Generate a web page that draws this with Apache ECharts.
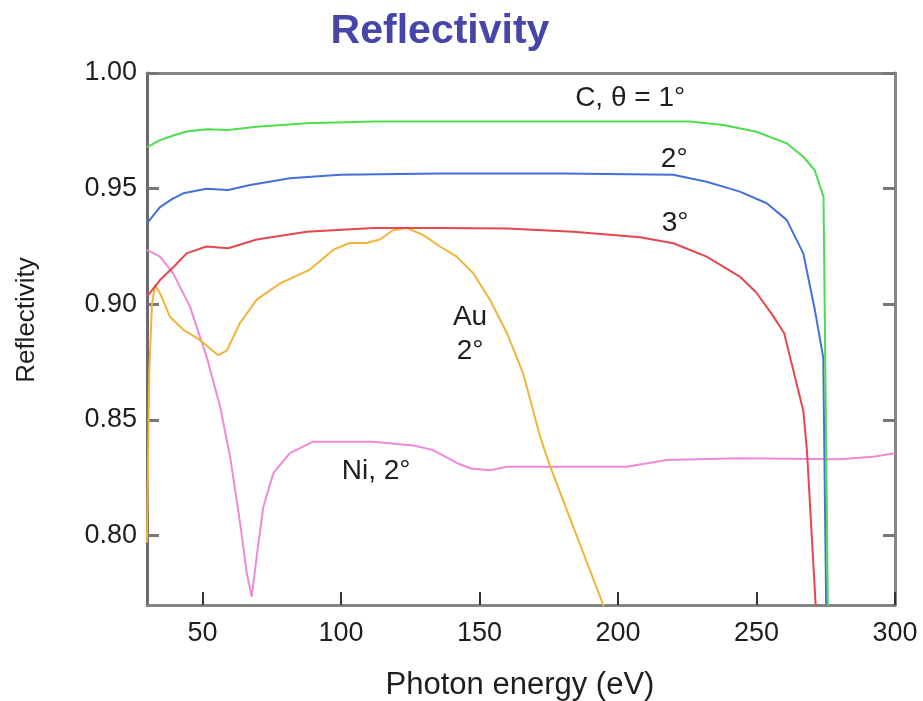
<!DOCTYPE html>
<html>
<head>
<meta charset="utf-8">
<style>
  html, body { margin: 0; padding: 0; background: #fff; }
  #chart { width: 923px; height: 701px; }
</style>
<script src="https://cdn.jsdelivr.net/npm/echarts@6/dist/echarts.min.js"></script>
</head>
<body>
<div id="chart"></div>
<script>
// Carbon mirror, grazing angle 1°
const carbon1Energy = [30, 34.7, 39.5, 44.3, 51.5, 59.3, 69.6, 87.7, 111.7, 135.8, 180, 226, 238, 250, 260.9, 266.9, 271, 274.2, 275.8];
const carbon1Refl   = [0.968, 0.971, 0.973, 0.9747, 0.9757, 0.9754, 0.9768, 0.9783, 0.979, 0.979, 0.979, 0.979, 0.9775, 0.9746, 0.9696, 0.9638, 0.958, 0.9465, 0.765];

// Carbon mirror, 2°
const carbon2Energy = [30, 34.7, 39, 43.1, 51.5, 59.3, 67.2, 81.6, 99.7, 135.8, 180, 219.9, 232, 244, 253.7, 260.9, 266.9, 271, 274.1, 275.2];
const carbon2Refl   = [0.935, 0.942, 0.9455, 0.948, 0.950, 0.9494, 0.9516, 0.9545, 0.956, 0.9566, 0.9566, 0.956, 0.953, 0.9487, 0.9437, 0.9365, 0.922, 0.898, 0.877, 0.765];

// Carbon mirror, 3°
const carbon3Energy = [30, 34.7, 39.5, 44.3, 51.5, 59.3, 69.6, 87.7, 111.7, 135.8, 160, 183.9, 208, 220, 232, 244, 250, 256, 260, 266.9, 268.2, 271.6];
const carbon3Refl   = [0.9033, 0.9105, 0.916, 0.922, 0.925, 0.9242, 0.928, 0.9314, 0.933, 0.933, 0.9328, 0.9314, 0.929, 0.9264, 0.9206, 0.912, 0.905, 0.895, 0.8875, 0.854, 0.837, 0.765];

// Gold mirror, 2°
const goldEnergy = [30, 30.8, 31.8, 32.9, 35, 38.3, 43.1, 49.1, 55.7, 58.8, 63.6, 69.6, 78, 88.8, 97.2, 103, 109.3, 114, 118.8, 123.7, 129.6, 135.8, 141.8, 147.7, 153.8, 159.9, 165.8, 171.9, 175.5, 183.8, 194.7, 196.5];
const goldRefl   = [0.797, 0.87, 0.90, 0.9083, 0.904, 0.8946, 0.889, 0.8846, 0.878, 0.880, 0.892, 0.902, 0.909, 0.915, 0.9235, 0.9265, 0.9265, 0.928, 0.932, 0.933, 0.930, 0.925, 0.9206, 0.9135, 0.902, 0.8876, 0.870, 0.8428, 0.830, 0.804, 0.770, 0.764];

// Nickel mirror, 2°
const nickelEnergy = [30, 34.7, 39.4, 45.5, 51.5, 56.4, 60, 63.6, 66, 67.8, 69.6, 72, 75.6, 81.6, 90, 111.6, 126, 133.3, 141.8, 147, 153.8, 159.9, 171.9, 203.2, 217.6, 244, 280, 292, 300];
const nickelRefl   = [0.9235, 0.9206, 0.9135, 0.899, 0.8774, 0.8557, 0.834, 0.8055, 0.7838, 0.7736, 0.791, 0.8125, 0.827, 0.8357, 0.8406, 0.8406, 0.839, 0.837, 0.8314, 0.829, 0.8283, 0.8298, 0.8298, 0.8298, 0.8327, 0.8334, 0.833, 0.8341, 0.8356];

// Axis ticks
const energyTicks = [50, 100, 150, 200, 250, 300];
const reflTicks   = [0.80, 0.85, 0.90, 0.95, 1.00];

// Curve labels, anchored in data coordinates [energy, reflectivity]
const curveLabels = [
  { text: 'C, θ = 1°', at: [204.4, 0.9892] },
  { text: '2°',        at: [220.3, 0.9628] },
  { text: '3°',        at: [220.6, 0.9351] },
  { text: 'Au',        at: [146.6, 0.8945] },
  { text: '2°',        at: [146.6, 0.8798] },
  { text: 'Ni, 2°',    at: [112.7, 0.8279] }
];

const zip = (xs, ys) => xs.map((x, i) => [x, ys[i]]);

const FONT = '"Liberation Sans", Arial, Helvetica, sans-serif';
const FRAME = '#858585';
const INK = '#1e1e1e';

function line(name, xs, ys, color) {
  return {
    name, type: 'line', data: zip(xs, ys),
    showSymbol: false, symbol: 'none', clip: true,
    lineStyle: { color, width: 2 },
    z: 3
  };
}

const chart = echarts.init(document.getElementById('chart'), null, { renderer: 'canvas' });

const X_MIN = 30, X_MAX = 300, Y_MIN = 0.77, Y_MAX = 1.0;

const titleGraphics = [
  {
    type: 'text', x: 440, y: 32, z: 10,
    style: { text: 'Reflectivity', fill: '#4646aa', font: 'bold 41px ' + FONT, textAlign: 'center', textVerticalAlign: 'middle' }
  },
  {
    type: 'text', x: 27, y: 320, rotation: Math.PI / 2, z: 10,
    style: { text: 'Reflectivity', fill: INK, font: '26px ' + FONT, textAlign: 'center', textVerticalAlign: 'middle' }
  },
  {
    type: 'text', x: 520, y: 685, z: 10,
    style: { text: 'Photon energy (eV)', fill: INK, font: '31px ' + FONT, textAlign: 'center', textVerticalAlign: 'middle' }
  }
];

chart.setOption({
  animation: false,
  backgroundColor: '#ffffff',
  grid: { left: 147, right: 28, top: 73, bottom: 96, outerBoundsMode: 'none' },
  xAxis: [
    {
      type: 'value', min: X_MIN, max: X_MAX, position: 'bottom',
      axisLine: { show: true, onZero: false, lineStyle: { color: FRAME, width: 3 } },
      axisTick: { show: true, inside: true, length: 13, customValues: energyTicks, lineStyle: { color: '#333', width: 2 } },
      axisLabel: { show: true, customValues: energyTicks, margin: 15, color: INK, fontSize: 27, fontFamily: FONT },
      splitLine: { show: false }
    },
    {
      type: 'value', min: X_MIN, max: X_MAX, position: 'top',
      axisLine: { show: true, onZero: false, lineStyle: { color: FRAME, width: 3 } },
      axisTick: { show: false }, axisLabel: { show: false }, splitLine: { show: false }
    }
  ],
  yAxis: [
    {
      type: 'value', min: Y_MIN, max: Y_MAX, position: 'left',
      axisLine: { show: true, onZero: false, lineStyle: { color: '#6a6a6a', width: 3 } },
      axisTick: { show: true, inside: true, length: 12, customValues: reflTicks, lineStyle: { color: '#777', width: 3 } },
      axisLabel: { show: true, customValues: reflTicks, margin: 10, color: INK, fontSize: 27, fontFamily: FONT,
                   formatter: v => Number(v).toFixed(2) },
      splitLine: { show: false }
    },
    {
      type: 'value', min: Y_MIN, max: Y_MAX, position: 'right',
      axisLine: { show: true, onZero: false, lineStyle: { color: FRAME, width: 3 } },
      axisTick: { show: true, inside: true, length: 12, customValues: reflTicks, lineStyle: { color: '#777', width: 3 } },
      axisLabel: { show: false }, splitLine: { show: false }
    }
  ],
  series: [
    line('Ni 2°', nickelEnergy, nickelRefl, '#f08ad6'),
    line('Au 2°', goldEnergy, goldRefl, '#f0b43a'),
    line('C 3°', carbon3Energy, carbon3Refl, '#e5474d'),
    line('C 2°', carbon2Energy, carbon2Refl, '#4470dc'),
    line('C 1°', carbon1Energy, carbon1Refl, '#4ddc4d')
  ],
  graphic: titleGraphics
});

// Place the curve labels at their data positions
const labelGraphics = curveLabels.map(l => {
  const p = chart.convertToPixel({ xAxisIndex: 0, yAxisIndex: 0 }, l.at);
  return {
    type: 'text', x: p[0], y: p[1], z: 10,
    style: { text: l.text, fill: INK, font: '28px ' + FONT, textAlign: 'center', textVerticalAlign: 'middle' }
  };
});
chart.setOption({ graphic: titleGraphics.concat(labelGraphics) }, { replaceMerge: ['graphic'] });
</script>
</body>
</html>
